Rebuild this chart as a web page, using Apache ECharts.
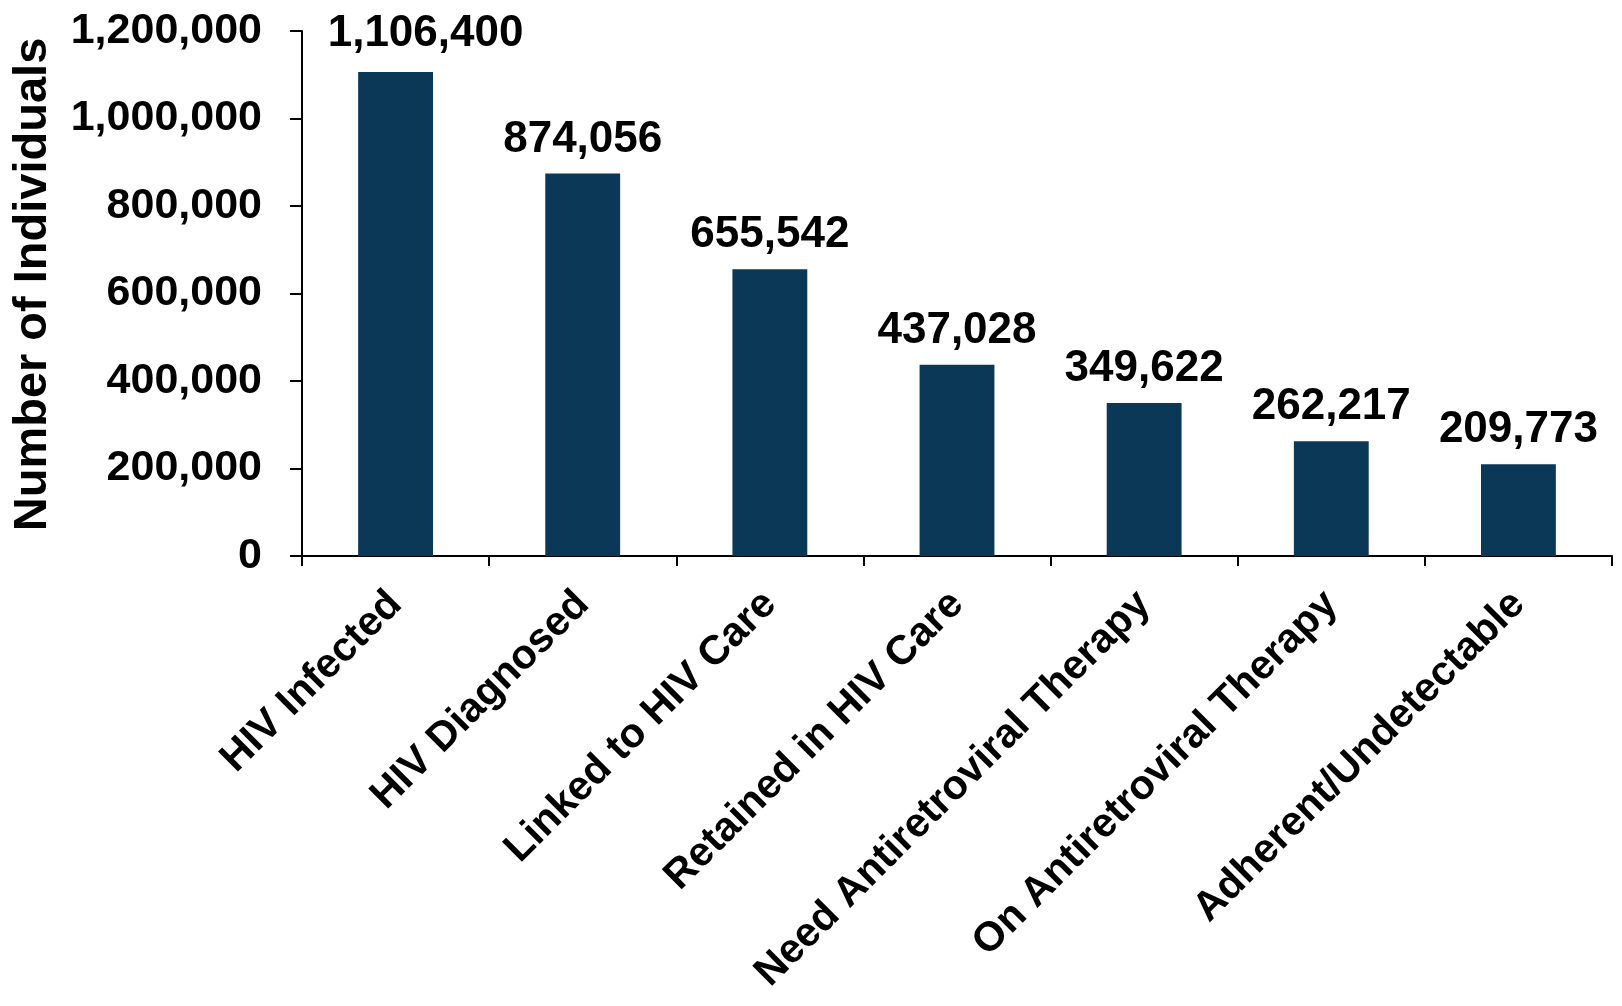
<!DOCTYPE html>
<html>
<head>
<meta charset="utf-8">
<script src="https://cdn.jsdelivr.net/npm/echarts@6/dist/echarts.min.js"></script>
<style>
html, body { margin: 0; padding: 0; background: #fff; }
#chart { width: 1622px; height: 1006px; }
</style>
</head>
<body>
<div id="chart"></div>
<script>
// 类别和数值
var categories = ['HIV Infected', 'HIV Diagnosed', 'Linked to HIV Care', 'Retained in HIV Care',
    'Need Antiretroviral Therapy', 'On Antiretroviral Therapy', 'Adherent/Undetectable'];
var individuals = [1106400, 874056, 655542, 437028, 349622, 262217, 209773];
var yTicks = [0, 200000, 400000, 600000, 800000, 1000000, 1200000];

var font = "'Liberation Sans', Arial, sans-serif";
var fmt = function (v) { return Number(v).toLocaleString('en-US'); };

var chart = echarts.init(document.getElementById('chart'));

var option = {
    backgroundColor: '#ffffff',
    animation: false,
    grid: { left: 302, right: 10, top: 31, bottom: 450 },
    xAxis: {
        type: 'category',
        data: categories,
        axisLine: { lineStyle: { color: '#000', width: 2 } },
        axisTick: { show: true, length: 10, alignWithLabel: false, lineStyle: { color: '#000', width: 2 } },
        axisLabel: {
            interval: 0,
            rotate: 45,
            margin: 42,
            color: '#000',
            fontFamily: font,
            fontWeight: 'bold',
            fontSize: 41
        }
    },
    yAxis: {
        type: 'value',
        min: yTicks[0],
        max: yTicks[yTicks.length - 1],
        interval: 200000,
        name: 'Number of Individuals',
        nameLocation: 'middle',
        nameRotate: 90,
        nameGap: 245,
        // 轴名稍微往上挪一点
        nameTextStyle: { color: '#000', fontFamily: font, fontWeight: 'bold', fontSize: 47, padding: [0, 0, 0, 18] },
        splitLine: { show: false },
        axisLine: { show: true, lineStyle: { color: '#000', width: 2 } },
        axisTick: { show: true, length: 12, lineStyle: { color: '#000', width: 2 } },
        axisLabel: {
            margin: 40,
            color: '#000',
            fontFamily: font,
            fontWeight: 'bold',
            fontSize: 43,
            formatter: fmt
        }
    },
    series: [{
        type: 'bar',
        barWidth: '40%',
        itemStyle: { color: '#0b3857' },
        label: {
            show: true,
            position: 'top',
            distance: 12,
            color: '#000',
            fontFamily: font,
            fontWeight: 'bold',
            fontSize: 44,
            formatter: function (p) { return fmt(p.value); }
        },
        // 第一根柱子的标签向右偏，避开坐标轴
        data: individuals.map(function (v, i) {
            return i === 0 ? { value: v, label: { offset: [30, -4] } } : v;
        })
    }]
};

chart.setOption(option);
window.addEventListener('resize', chart.resize);
</script>
</body>
</html>
